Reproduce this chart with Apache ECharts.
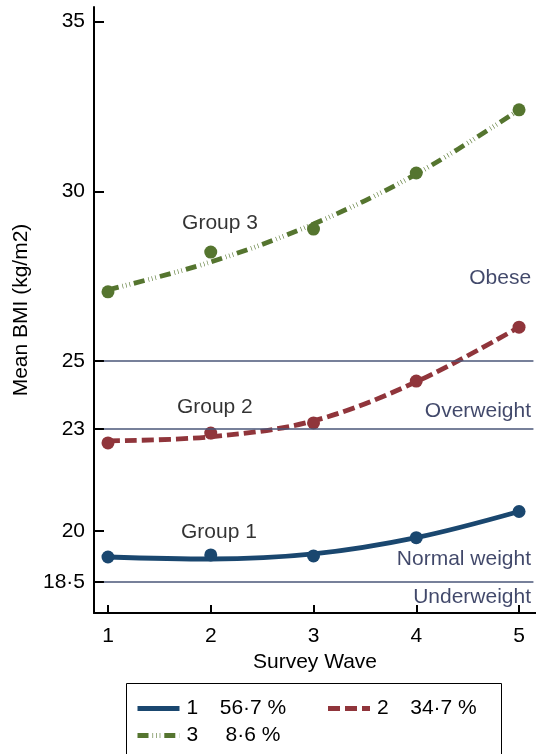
<!DOCTYPE html>
<html>
<head>
<meta charset="utf-8">
<script src="https://cdn.jsdelivr.net/npm/echarts@6/dist/echarts.min.js"></script>
<style>
  html, body { margin: 0; padding: 0; background: #fff; }
  #chart { width: 536px; height: 754px; }
</style>
</head>
<body>
<div id="chart"></div>
<script>
// Survey waves and trajectory groups
const waves = [1, 2, 3, 4, 5];
const groups = ['1', '2', '3'];
const shares = ['56·7 %', '34·7 %', '8·6 %'];

// Observed mean BMI per wave
const meanG1 = [19.23, 19.29, 19.26, 19.80, 20.57];
const meanG2 = [22.59, 22.88, 23.18, 24.41, 26.00];
const meanG3 = [27.04, 28.21, 28.89, 30.54, 32.40];

// Fitted trajectory per wave
const fitG1 = [19.23, 19.17, 19.32, 19.80, 20.57];
const fitG2 = [22.65, 22.77, 23.24, 24.39, 26.00];
const fitG3 = [27.10, 27.92, 29.04, 30.51, 32.40];

// Axis ticks and BMI cut-offs
const yTicks = [18.5, 20, 23, 25, 30, 35];
const cutoffs = [18.5, 23, 25];
const bandNames = ['Underweight', 'Normal weight', 'Overweight', 'Obese'];
const groupNames = ['Group 1', 'Group 2', 'Group 3'];

// Where the text annotations sit, in axis units
const bandAnchors = [[5.117, 18.06], [5.117, 19.15], [5.117, 23.53], [5.117, 27.45]];
const groupAnchors = [[2.08, 19.96], [2.04, 23.65], [2.09, 29.07]];

const FONT = '"Liberation Sans", Arial, Helvetica, sans-serif';
const colors = ['#1a476f', '#90353b', '#55752f'];
const refColor = '#4a5679';
const bandTextColor = '#111a45';
const dashes = ['solid', [12, 5], [11, 4, 0.6, 3, 0.6, 3, 0.6, 4]];

const fits = [fitG1, fitG2, fitG3];
const means = [meanG1, meanG2, meanG3];
const pair = (xs, ys) => xs.map((x, i) => [x, ys[i]]);
const dot = v => String(v).replace('.', '·');

const series = [];
groups.forEach((g, i) => {
  series.push({
    name: g,
    type: 'line',
    data: pair(waves, fits[i]),
    smooth: 0.35,
    symbol: 'none',
    lineStyle: { color: colors[i], width: 4.8, type: dashes[i], cap: 'butt' },
    itemStyle: { color: colors[i] },
    z: 3
  });
});
groups.forEach((g, i) => {
  series.push({
    name: 'mean ' + g,
    type: 'scatter',
    data: pair(waves, means[i]),
    symbol: 'circle',
    symbolSize: 13,
    itemStyle: { color: colors[i], opacity: 1 },
    z: 4
  });
});

// Cut-off lines drawn through a helper series
series.push({
  name: 'cutoffs',
  type: 'line',
  data: [],
  silent: true,
  markLine: {
    symbol: 'none',
    silent: true,
    label: { show: false },
    lineStyle: { color: refColor, width: 1.6, type: 'solid' },
    emphasis: { disabled: true },
    data: cutoffs.map(c => [{ coord: [0.96, c] }, { coord: [5.14, c] }])
  },
  z: 2
});

// Band names, right-aligned
series.push({
  name: 'bands',
  type: 'scatter',
  silent: true,
  symbolSize: 0,
  data: bandNames.map((n, i) => ({ name: n, value: bandAnchors[i] })),
  label: {
    show: true, position: 'left', distance: 0,
    formatter: p => p.name,
    fontFamily: FONT, fontSize: 21, color: bandTextColor
  },
  z: 5
});

// Group names
series.push({
  name: 'groups',
  type: 'scatter',
  silent: true,
  symbolSize: 0,
  data: groupNames.map((n, i) => ({ name: n, value: groupAnchors[i] })),
  label: {
    show: true, position: 'inside',
    formatter: p => p.name,
    fontFamily: FONT, fontSize: 21, color: '#000'
  },
  z: 5
});

const chart = echarts.init(document.getElementById('chart'), null, { renderer: 'canvas' });
chart.setOption({
  animation: false,
  backgroundColor: '#fff',
  grid: { left: 94, top: 7, width: 442, height: 606, containLabel: false, outerBoundsMode: 'none' },
  xAxis: {
    type: 'value',
    min: 0.864, max: 5.165,
    name: 'Survey Wave',
    nameLocation: 'middle',
    nameGap: 39,
    nameTextStyle: { fontFamily: FONT, fontSize: 21, color: '#000' },
    axisLine: { show: true, onZero: false, lineStyle: { color: '#000', width: 2 } },
    axisTick: { show: true, inside: true, length: 8, customValues: waves, lineStyle: { color: '#000', width: 2 } },
    axisLabel: { customValues: waves, margin: 13, fontFamily: FONT, fontSize: 21, color: '#000' },
    splitLine: { show: false }
  },
  yAxis: {
    type: 'value',
    min: 17.58, max: 35.43,
    name: 'Mean BMI (kg/m2)',
    nameLocation: 'middle',
    nameRotate: 90,
    nameGap: 60,
    nameTextStyle: { fontFamily: FONT, fontSize: 21, color: '#000' },
    axisLine: { show: true, onZero: false, lineStyle: { color: '#000', width: 2 } },
    axisTick: { show: true, inside: true, length: 10, customValues: yTicks, lineStyle: { color: '#000', width: 2 } },
    axisLabel: { customValues: yTicks, margin: 9, formatter: dot, fontFamily: FONT, fontSize: 21, color: '#000' },
    splitLine: { show: false }
  },
  legend: {
    data: groups,
    orient: 'horizontal',
    left: 135,
    top: 698,
    width: 385,
    padding: 0,
    itemGap: 6,
    itemWidth: 42,
    itemHeight: 14,
    selectedMode: false,
    itemStyle: { opacity: 0 },
    lineStyle: { width: 5 },
    formatter: name => '{n|' + name + '}{p|' + shares[groups.indexOf(name)] + '}',
    textStyle: {
      fontFamily: FONT, fontSize: 21, color: '#000', lineHeight: 20,
      rich: {
        n: { width: 33, padding: [0, 0, 0, 2], fontFamily: FONT, fontSize: 21, lineHeight: 20 },
        p: { width: 67, align: 'center', padding: [0, 33, 0, 0], fontFamily: FONT, fontSize: 21, lineHeight: 20 }
      }
    }
  },
  graphic: [{
    type: 'rect',
    shape: { x: 126.5, y: 683.5, width: 375, height: 120 },
    style: { fill: 'none', stroke: '#000', lineWidth: 1 },
    silent: true
  }],
  series: series
});
</script>
</body>
</html>
